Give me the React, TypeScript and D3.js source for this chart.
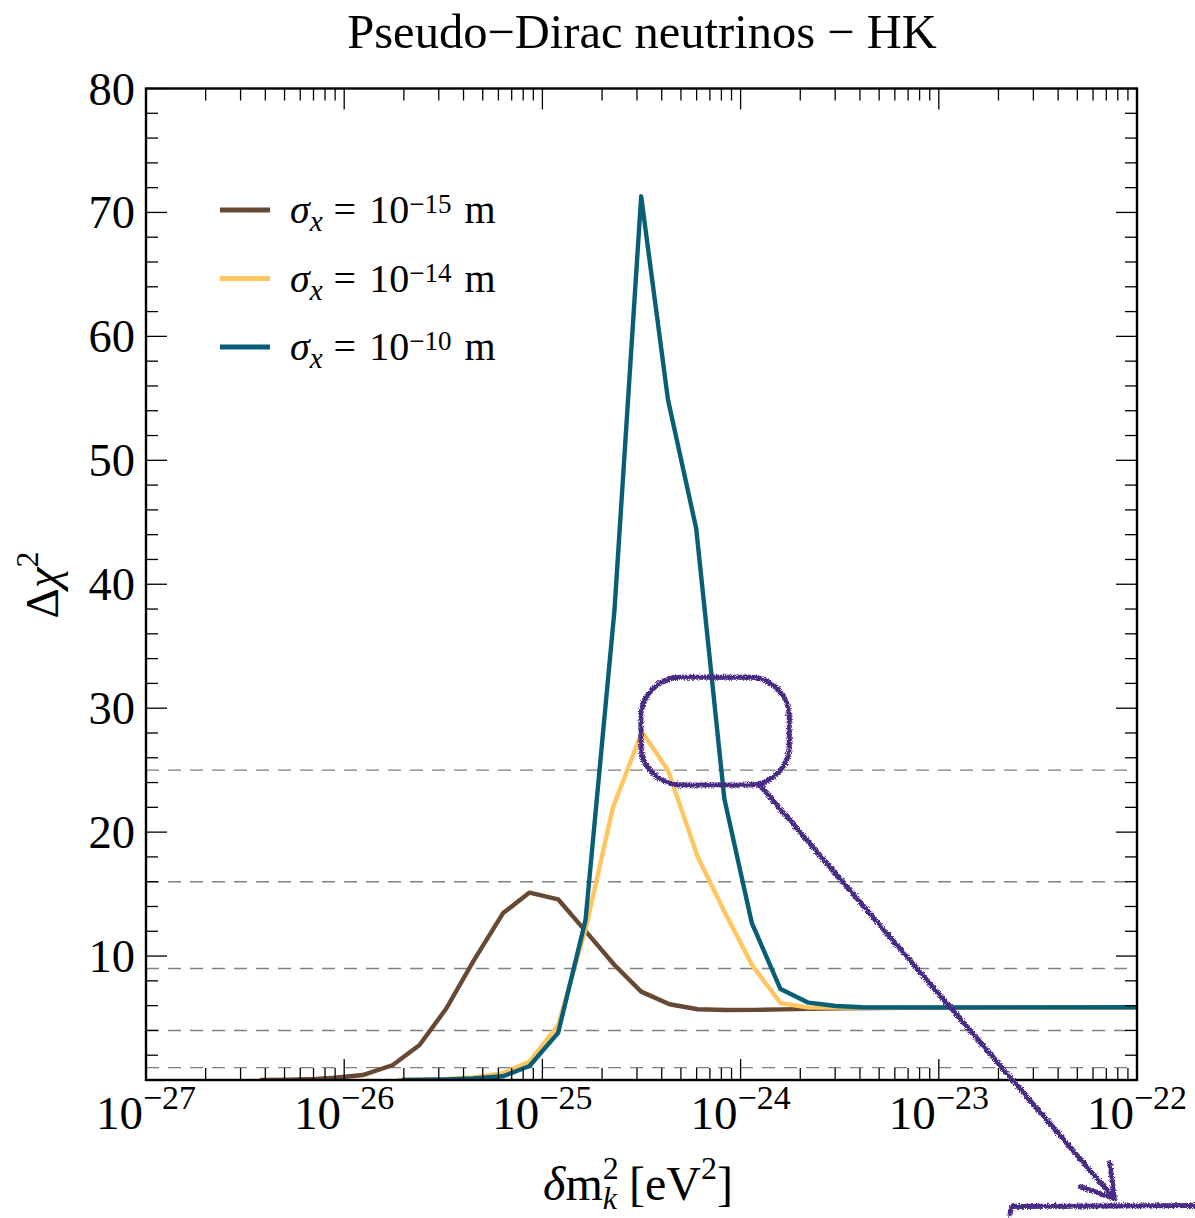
import React from 'react';
import * as d3 from 'd3';

// ---- chart data -------------------------------------------------------
const titleText = 'Pseudo\u2212Dirac neutrinos \u2212 HK';
const xExponents = [-27, -26, -25, -24, -23, -22];
const yTickValues = [10, 20, 30, 40, 50, 60, 70, 80];
const sigmaLevels = [1, 4, 9, 16, 25];

// sigma_x = 1e-15 m
const dm2Sigma15 = [3.76e-27, 5.21e-27, 7.2e-27, 8.97e-27, 1.24e-26, 1.76e-26, 2.4e-26, 3.28e-26, 4.47e-26, 6.32e-26, 8.61e-26, 1.2e-25, 1.66e-25, 2.31e-25, 3.15e-25, 4.38e-25, 6.08e-25, 8.45e-25, 1.18e-24, 1.63e-24, 2.25e-24, 3.16e-24, 1e-23, 3.16e-23, 1e-22];
const chi2Sigma15 = [0.0, 0.03, 0.08, 0.18, 0.4, 1.21, 2.82, 5.79, 9.55, 13.45, 15.12, 14.58, 11.97, 9.28, 7.13, 6.11, 5.71, 5.65, 5.66, 5.7, 5.74, 5.78, 5.84, 5.85, 5.86];

// sigma_x = 1e-14 m
const dm2Sigma14 = [1.84e-26, 3.28e-26, 4.47e-26, 6.32e-26, 8.61e-26, 1.2e-25, 1.66e-25, 2.27e-25, 3.18e-25, 4.3e-25, 6.08e-25, 8.28e-25, 1.14e-24, 1.59e-24, 2.2e-24, 1e-23, 1e-22];
const chi2Sigma14 = [0.0, 0.08, 0.2, 0.55, 1.5, 4.4, 12.3, 22.0, 28.1, 25.0, 18.0, 13.6, 9.3, 6.2, 5.84, 5.85, 5.85];

// sigma_x = 1e-10 m
const dm2Sigma10 = [1.95e-26, 3.28e-26, 4.47e-26, 6.32e-26, 8.61e-26, 1.2e-25, 1.65e-25, 2.31e-25, 3.15e-25, 4.3e-25, 5.97e-25, 8.28e-25, 1.14e-24, 1.59e-24, 2.2e-24, 3.03e-24, 4.11e-24, 1e-23, 1e-22];
const chi2Sigma10 = [0.0, 0.05, 0.12, 0.3, 1.13, 3.8, 12.9, 37.9, 71.3, 54.9, 44.5, 22.7, 12.65, 7.34, 6.24, 5.97, 5.87, 5.85, 5.87];

const seriesExponents = ['\u221215', '\u221214', '\u221210'];
const seriesColors = ['#674933', '#FFC660', '#085E76'];

// ---- layout ----------------------------------------------------------
const W = 1195;
const H = 1218;
const left = 146;
const right = 1137;
const top = 88.5;
const bottom = 1080;
const serif = '"Liberation Serif", "Times New Roman", Times, serif';
const ink = '#4A2C85';

export default function App() {
  const x = d3.scaleLog().domain([1e-27, 1e-22]).range([left, right]);
  const y = d3.scaleLinear().domain([0, 80]).range([bottom, top]);

  const series = [
    { dm2: dm2Sigma15, chi2: chi2Sigma15 },
    { dm2: dm2Sigma14, chi2: chi2Sigma14 },
    { dm2: dm2Sigma10, chi2: chi2Sigma10 },
  ];

  const line = d3
    .line<[number, number]>()
    .x((d) => x(d[0]))
    .y((d) => y(d[1]));

  // minor ticks along the log axis
  const minorX: number[] = [];
  for (let e = -27; e < -22; e++) {
    for (let m = 2; m <= 9; m++) minorX.push(m * Math.pow(10, e));
  }
  const majorX = xExponents.map((e) => Math.pow(10, e));
  const minorY = d3.range(0, 81, 2).filter((v) => v % 10 !== 0);
  const majorY = d3.range(0, 81, 10);

  const majorLen = 21;
  const minorLen = 12;

  // hand-drawn highlight: rounded box around the 1e-14 peak with an arrow
  const boxX0 = x(3.14e-25);
  const boxX1 = x(1.76e-24);
  const boxY0 = y(32.5);
  const boxY1 = y(23.8);
  const arrowStart: [number, number] = [x(1.25e-24), y(23.8)];
  const arrowTip: [number, number] = [x(7.6e-23), y(-9.5)];
  const barbA: [number, number] = [x(7.3e-23), y(-6.7)];
  const barbB: [number, number] = [x(5.2e-23), y(-8.6)];
  const shelfY = y(-10.2);
  const shelfX0 = x(2.28e-23);
  const shelfX1 = x(2e-22);

  return (
    <svg
      width={W}
      height={H}
      viewBox={`0 0 ${W} ${H}`}
      style={{ position: 'absolute', left: 0, top: 0, background: '#fff' }}
      fontFamily={serif}
    >
      <defs>
        <clipPath id="plot-clip">
          <rect x={left} y={top} width={right - left} height={bottom - top} />
        </clipPath>
        <filter id="rough" filterUnits="userSpaceOnUse" x={0} y={0} width={W} height={H}>
          <feTurbulence type="fractalNoise" baseFrequency="1.6" numOctaves={2} seed={7} result="noise" />
          <feDisplacementMap in="SourceGraphic" in2="noise" scale={5} xChannelSelector="R" yChannelSelector="G" />
        </filter>
      </defs>

      <rect x={0} y={0} width={W} height={H} fill="#fff" />

      {/* title */}
      <text x={642} y={48} textAnchor="middle" fontSize={48.5} fill="#000">
        {titleText}
      </text>

      {/* reference levels */}
      {sigmaLevels.map((v) => (
        <line
          key={`lvl-${v}`}
          x1={left}
          x2={right}
          y1={y(v)}
          y2={y(v)}
          stroke="#808080"
          strokeWidth={1.4}
          strokeDasharray="13 9"
        />
      ))}

      {/* curves */}
      <g clipPath="url(#plot-clip)">
        {series.map((s, i) => (
          <path
            key={`s-${i}`}
            d={line(s.dm2.map((d, j) => [d, s.chi2[j]] as [number, number])) || ''}
            fill="none"
            stroke={seriesColors[i]}
            strokeWidth={4.4}
            strokeLinejoin="round"
          />
        ))}
      </g>

      {/* ticks */}
      <g stroke="#000" strokeWidth={1.3}>
        {minorX.map((v, i) => (
          <g key={`mx-${i}`}>
            <line x1={x(v)} x2={x(v)} y1={bottom} y2={bottom - minorLen} />
            <line x1={x(v)} x2={x(v)} y1={top} y2={top + minorLen} />
          </g>
        ))}
        {majorX.map((v, i) => (
          <g key={`Mx-${i}`}>
            <line x1={x(v)} x2={x(v)} y1={bottom} y2={bottom - majorLen} />
            <line x1={x(v)} x2={x(v)} y1={top} y2={top + majorLen} />
          </g>
        ))}
        {minorY.map((v) => (
          <g key={`my-${v}`}>
            <line x1={left} x2={left + minorLen} y1={y(v)} y2={y(v)} />
            <line x1={right} x2={right - minorLen} y1={y(v)} y2={y(v)} />
          </g>
        ))}
        {majorY.map((v) => (
          <g key={`My-${v}`}>
            <line x1={left} x2={left + majorLen} y1={y(v)} y2={y(v)} />
            <line x1={right} x2={right - majorLen} y1={y(v)} y2={y(v)} />
          </g>
        ))}
      </g>

      {/* frame */}
      <rect
        x={left}
        y={top}
        width={right - left}
        height={bottom - top}
        fill="none"
        stroke="#000"
        strokeWidth={2.4}
      />

      {/* y tick labels */}
      {yTickValues.map((v) => (
        <text key={`yl-${v}`} x={135} y={y(v) + 16} textAnchor="end" fontSize={46.5} fill="#000">
          {v}
        </text>
      ))}

      {/* x tick labels */}
      {xExponents.map((e) => (
        <text key={`xl-${e}`} x={x(Math.pow(10, e))} y={1129} textAnchor="middle" fontSize={47} fill="#000">
          10
          <tspan fontSize={34} dy={-20}>
            {`\u2212${-e}`}
          </tspan>
        </text>
      ))}

      {/* axis titles */}
      <text x={638} y={1200} textAnchor="middle" fontSize={48} fill="#000">
        <tspan fontStyle="italic">δ</tspan>
        <tspan>m</tspan>
        <tspan fontSize={32} dy={-21}>2</tspan>
        <tspan fontSize={32} fontStyle="italic" dx={-16} dy={30}>k</tspan>
        <tspan dy={-9}> [eV</tspan>
        <tspan fontSize={32} dy={-21}>2</tspan>
        <tspan dy={21}>]</tspan>
      </text>

      <text transform="translate(58,585) rotate(-90)" textAnchor="middle" fontSize={47} fill="#000">
        <tspan>Δ</tspan>
        <tspan fontStyle="italic">χ</tspan>
        <tspan fontSize={32} dy={-20}>2</tspan>
      </text>

      {/* legend */}
      {seriesColors.map((c, i) => {
        const ly = 210 + i * 68.5;
        return (
          <g key={`lg-${i}`}>
            <line x1={220} x2={270} y1={ly} y2={ly} stroke={c} strokeWidth={5} />
            <text x={290} y={ly + 13} fontSize={40} fill="#000">
              <tspan fontStyle="italic">σ</tspan>
              <tspan fontStyle="italic" fontSize={29} dy={8}>x</tspan>
              <tspan dx={11} dy={-8}>=</tspan>
              <tspan dx={13}>10</tspan>
              <tspan fontSize={27} dy={-10}>{seriesExponents[i]}</tspan>
              <tspan dx={13} dy={10}>m</tspan>
            </text>
          </g>
        );
      })}

      {/* hand-drawn highlight */}
      <g filter="url(#rough)" stroke={ink} strokeWidth={5} fill="none" strokeLinecap="round" strokeLinejoin="round">
        <rect x={boxX0} y={boxY0} width={boxX1 - boxX0} height={boxY1 - boxY0} rx={40} ry={40} />
        <path d={`M${arrowStart[0]},${arrowStart[1]} L${arrowTip[0]},${arrowTip[1]}`} />
        <path d={`M${barbA[0]},${barbA[1]} L${arrowTip[0] + 1},${arrowTip[1] + 1} L${barbB[0]},${barbB[1]}`} />
        <path d={`M${shelfX0},${shelfY + 8} L${shelfX0 + 2},${shelfY} L${shelfX1},${shelfY - 1}`} />
      </g>
    </svg>
  );
}
